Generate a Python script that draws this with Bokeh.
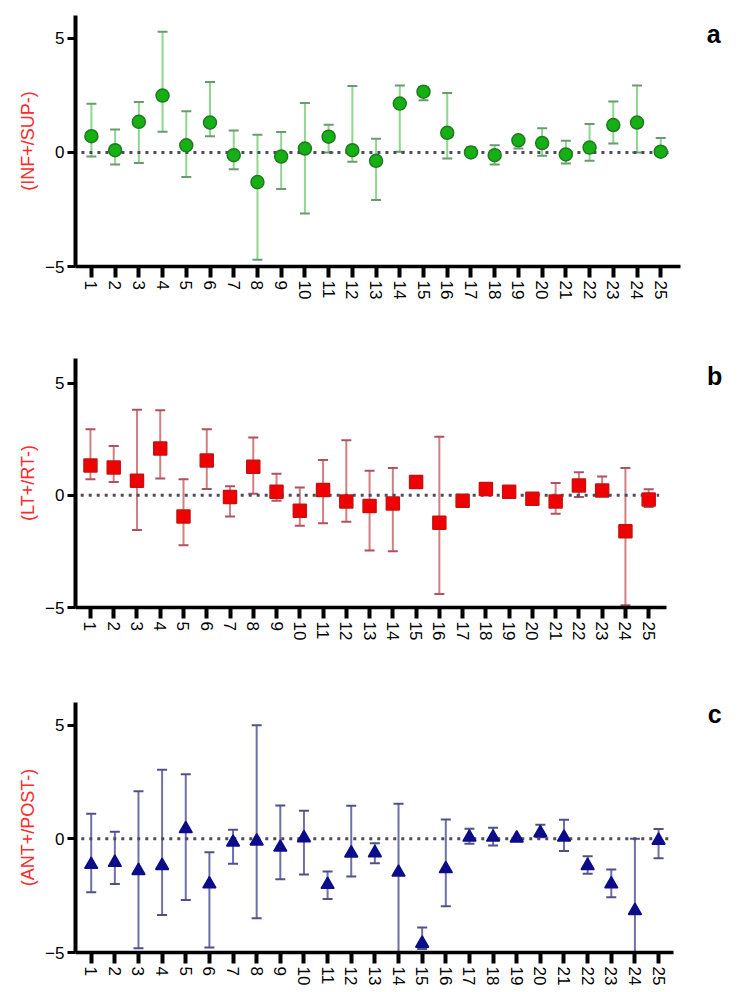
from bokeh.plotting import figure
from bokeh.models import ColumnDataSource, Whisker, TeeHead, Range1d, FixedTicker, Label
from bokeh.layouts import column
from bokeh.embed import file_html
from bokeh.resources import INLINE

cats = list(range(1, 26))
tick_labels = [str(c) for c in cats]

# Panel a: (INF+/SUP-)
a_mean = [0.71, 0.10, 1.34, 2.49, 0.31, 1.31, -0.12, -1.30, -0.18, 0.17, 0.69, 0.10, -0.37,
          2.14, 2.66, 0.86, 0.00, -0.12, 0.53, 0.41, -0.09, 0.21, 1.20, 1.31, 0.03]
a_low = [-0.18, -0.53, -0.46, 0.91, -1.08, 0.71, -0.74, -4.70, -1.60, -2.68, 0.00, -0.41, -2.09,
         0.03, 2.29, -0.27, -0.15, -0.53, 0.17, -0.15, -0.49, -0.37, 0.39, 0.00, -0.15]
a_high = [2.13, 1.00, 2.21, 5.29, 1.80, 3.09, 0.96, 0.77, 0.89, 2.17, 1.21, 2.91, 0.60,
          2.93, 2.86, 2.60, 0.23, 0.31, 0.69, 1.06, 0.51, 1.24, 2.23, 2.93, 0.63]

# Panel b: (LT+/RT-)
b_mean = [1.33, 1.24, 0.65, 2.09, -0.94, 1.55, -0.07, 1.27, 0.16, -0.69, 0.24, -0.27, -0.48,
          -0.36, 0.59, -1.22, -0.24, 0.28, 0.16, -0.15, -0.27, 0.44, 0.22, -1.60, -0.18]
b_low = [0.72, 0.59, -1.54, 0.75, -2.22, 0.28, -0.94, 0.07, -0.24, -1.36, -1.24, -1.18, -2.46,
         -2.49, 0.55, -4.40, -0.36, 0.00, 0.00, -0.30, -0.82, -0.07, 0.00, -4.90, -0.52]
b_high = [2.95, 2.20, 3.82, 3.79, 0.72, 2.95, 0.40, 2.58, 0.96, 0.35, 1.58, 2.46, 1.10,
          1.22, 0.63, 2.61, -0.05, 0.40, 0.25, 0.04, 0.55, 1.03, 0.84, 1.22, 0.27]

# Panel c: (ANT+/POST-)
c_mean = [-1.13, -1.04, -1.40, -1.18, 0.44, -1.99, -0.15, -0.10, -0.37, 0.04, -2.01, -0.63, -0.62,
          -1.47, -4.60, -1.32, 0.07, 0.07, 0.03, 0.26, 0.07, -1.18, -1.99, -3.16, -0.07]
c_low = [-2.35, -1.99, -4.81, -3.35, -2.69, -4.78, -1.10, -3.49, -1.78, -1.57, -2.65, -1.66, -1.07,
         -5.00, -4.85, -2.97, -0.22, -0.29, 0.03, 0.07, -0.53, -1.54, -2.57, -5.00, -0.85]
c_high = [1.10, 0.31, 2.09, 3.04, 2.84, -0.59, 0.40, 5.00, 1.47, 1.24, -1.44, 1.46, -0.19,
          1.54, -3.90, 0.85, 0.44, 0.49, 0.03, 0.62, 0.84, -0.76, -1.35, 0.00, 0.43]

y_ticks = [-5, 0, 5]
y_tick_labels = ["\u22125", "0", "5"]

FONT = "Liberation Sans"
W = 738


def make_panel(mean, low, high, ylabel, letter, marker, fill, edge, bar, cap,
               height, b_top, b_bottom, b_left, x_start, scale, axis_end, y_end,
               letter_x, letter_y):
    x_end = x_start + (W - b_left) / scale
    src = ColumnDataSource(dict(x=cats, y=mean, lower=low, upper=high))
    p = figure(width=W, height=height, output_backend="svg", toolbar_location=None,
               x_range=Range1d(x_start, x_end), y_range=Range1d(-5, y_end),
               min_border_top=b_top, min_border_bottom=b_bottom,
               min_border_left=b_left, min_border_right=0)
    p.outline_line_color = None
    p.xgrid.visible = False
    p.ygrid.visible = False
    p.background_fill_color = "white"
    p.border_fill_color = "white"

    # zero reference line
    p.line([cats[0] - 0.42, cats[-1] + 0.45], [0, 0], line_color="#4c4c5c",
           line_width=3, line_dash="3 5")

    w = Whisker(source=src, base="x", upper="upper", lower="lower",
                line_color=bar, line_width=2,
                upper_head=TeeHead(size=10, line_color=cap, line_width=2),
                lower_head=TeeHead(size=10, line_color=cap, line_width=2))
    w.level = "underlay"
    p.add_layout(w)

    p.scatter("x", "y", source=src, marker=marker, size=13,
              fill_color=fill, line_color=edge, line_width=1.5)

    xa = p.xaxis[0]
    xa.ticker = FixedTicker(ticks=cats)
    xa.major_label_overrides = dict(zip(cats, tick_labels))
    xa.bounds = (x_start, axis_end)
    xa.axis_line_width = 3.5
    xa.axis_line_color = "black"
    xa.major_tick_line_width = 4
    xa.major_tick_out = 11
    xa.major_tick_in = 0
    xa.minor_tick_line_color = None
    xa.major_label_orientation = "vertical"
    xa.major_label_text_font = FONT
    xa.major_label_text_font_size = "17px"
    xa.major_label_text_color = "black"
    xa.major_label_standoff = 3

    ya = p.yaxis[0]
    ya.ticker = FixedTicker(ticks=y_ticks)
    ya.major_label_overrides = dict(zip(y_ticks, y_tick_labels))
    ya.bounds = (-5, y_end)
    ya.axis_line_width = 4
    ya.axis_line_color = "black"
    ya.major_tick_line_width = 3
    ya.major_tick_out = 8
    ya.major_tick_in = 0
    ya.minor_tick_line_color = None
    ya.major_label_text_font = FONT
    ya.major_label_text_font_size = "17px"
    ya.major_label_text_color = "black"
    ya.major_label_standoff = 3
    ya.axis_label = ylabel
    ya.axis_label_text_font = FONT
    ya.axis_label_text_font_size = "18px"
    ya.axis_label_text_font_style = "normal"
    ya.axis_label_text_color = "#ff2a2a"
    ya.axis_label_standoff = 4

    p.add_layout(Label(x=letter_x, y=letter_y, text=letter, text_font=FONT,
                       text_font_size="25px", text_font_style="bold",
                       text_align="center", text_baseline="middle", text_color="black"))
    return p


pa = make_panel(a_mean, a_low, a_high, "(INF+/SUP-)", "a", "circle",
                "#14b014", "#1f7a1f", "#8fd68f", "#6a9a70",
                314, 15, 48, 72, 0.33, 23.83, 25.84, 6.0, 27.23, 5.2)
pb = make_panel(b_mean, b_low, b_high, "(LT+/RT-)", "b", "square",
                "#f00000", "#c81010", "#d08080", "#b05060",
                341, 44, 48, 73, 0.357, 23.33, 25.77, 6.1, 27.83, 5.3)
pc = make_panel(c_mean, c_low, c_high, "(ANT+/POST-)", "c", "triangle",
                "#0c0c8a", "#0c0c8a", "#7070a8", "#505088",
                337, 47, 40, 75, 0.336, 23.64, 25.63, 6.0, 27.37, 5.5)

layout = column(pa, pb, pc, spacing=0)
open("out.html", "w").write(file_html(layout, INLINE))
